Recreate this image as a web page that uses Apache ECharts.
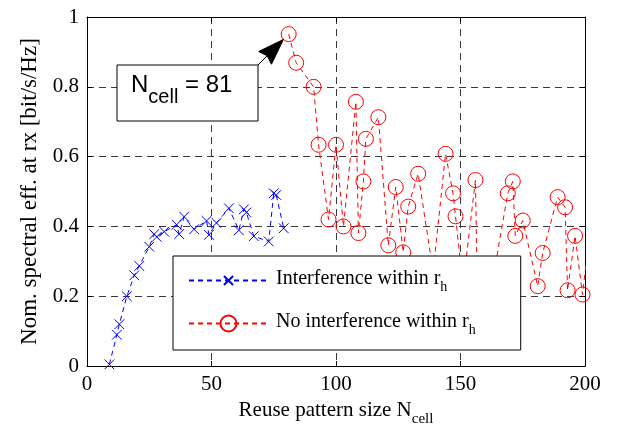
<!DOCTYPE html>
<html><head><meta charset="utf-8">
<script src="https://cdn.jsdelivr.net/npm/echarts@6/dist/echarts.min.js"></script>
<style>html,body{margin:0;padding:0;background:#fff}#c{width:618px;height:432px}</style>
</head><body><div id="c"></div>
<script>
// ---- data ----
const xTicks = [0, 50, 100, 150, 200];
const yTicks = [0, 0.2, 0.4, 0.6, 0.8, 1];
const seriesNames = ['Interference within r', 'No interference within r'];
const blueN = [9,12,13,16,19,21,25,27,28,31,36,37,39,43,48,49,52,57,61,63,64,67,73,75,76,79];
const blueV = [0.005,0.09,0.12,0.2,0.26,0.287,0.342,0.378,0.37,0.385,0.405,0.378,0.428,0.392,0.416,0.376,0.41,0.452,0.389,0.449,0.44,0.372,0.357,0.495,0.49,0.395];
const redN = [81,84,91,93,97,100,103,108,109,111,112,117,121,124,127,129,133,139,144,147,148,151,156,157,163,169,171,172,175,181,183,189,192,193,196,199,201];
const redV = [0.951,0.869,0.8,0.634,0.42,0.634,0.4,0.757,0.381,0.529,0.651,0.713,0.346,0.513,0.326,0.457,0.551,0.27,0.608,0.495,0.429,0.23,0.533,0.1,0.25,0.495,0.529,0.373,0.417,0.229,0.324,0.484,0.455,0.217,0.373,0.205,0.33];
const annotN = 81;
const annotV = 0.951;

const SERIF = "'Liberation Serif','Times New Roman',serif";
const SANS = "'Liberation Sans',Arial,sans-serif";
const CROSS = 'path://M0,0M3,3L11,11M11,3L3,11M14,14';

const chart = echarts.init(document.getElementById('c'), null, {renderer: 'canvas'});
const xMin = xTicks[0], xMax = xTicks[xTicks.length - 1], xInt = xTicks[1] - xTicks[0];
const yMin = yTicks[0], yMax = yTicks[yTicks.length - 1], yInt = yTicks[1] - yTicks[0];

const gridDash = {color: '#3a3a3a', width: 1, type: [7, 5]};
const tick = {inside: true, length: 5, lineStyle: {color: '#000', width: 1}};
const axLine = {show: true, onZero: false, lineStyle: {color: '#000', width: 1}};
const nameRich = {
  a: {fontFamily: SERIF, fontSize: 21, color: '#000', lineHeight: 24, verticalAlign: 'top'},
  s: {fontFamily: SERIF, fontSize: 15, color: '#000', lineHeight: 17, verticalAlign: 'top', padding: [12, 0, 0, 0]}
};
const legRich = {
  a: {fontFamily: SERIF, fontSize: 20, color: '#000', lineHeight: 23, verticalAlign: 'top'},
  s: {fontFamily: SERIF, fontSize: 14, color: '#000', lineHeight: 16, verticalAlign: 'top', padding: [11, 0, 0, 0]}
};

chart.setOption({
  animation: false,
  backgroundColor: '#fff',
  grid: {left: 87, right: 33, top: 17, bottom: 65, containLabel: false},
  xAxis: [{
    type: 'value', min: xMin, max: xMax, interval: xInt, position: 'bottom',
    axisLine: axLine, axisTick: tick,
    axisLabel: {margin: 8, fontFamily: SERIF, fontSize: 21, color: '#000'},
    splitLine: {show: true, lineStyle: gridDash},
    name: '{a|Reuse pattern size N}{s|cell}', nameLocation: 'middle', nameGap: 28,
    nameTextStyle: {rich: nameRich}
  }, {
    type: 'value', min: xMin, max: xMax, interval: xInt, position: 'top',
    axisLine: axLine, axisTick: tick, axisLabel: {show: false}, splitLine: {show: false}
  }],
  yAxis: [{
    type: 'value', min: yMin, max: yMax, interval: yInt, position: 'left',
    axisLine: axLine, axisTick: tick,
    axisLabel: {margin: 8, fontFamily: SERIF, fontSize: 21, color: '#000'},
    splitLine: {show: true, lineStyle: gridDash},
    name: 'Nom. spectral eff. at rx [bit/s/Hz]', nameLocation: 'middle', nameGap: 46,
    nameTextStyle: {fontFamily: SERIF, fontSize: 23, color: '#000'}
  }, {
    type: 'value', min: yMin, max: yMax, interval: yInt, position: 'right',
    axisLine: axLine, axisTick: tick, axisLabel: {show: false}, splitLine: {show: false}
  }],
  legend: {
    orient: 'vertical', left: 173, top: 256,
    padding: [13, 45, 13, 15],
    itemWidth: 79, itemHeight: 20, itemGap: 18,
    backgroundColor: '#fff', borderColor: '#000', borderWidth: 1,
    data: seriesNames,
    formatter: name => '{a|' + name + '}{s|h}',
    textStyle: {padding: [0, 0, 0, 3], rich: legRich}
  },
  series: [{
    name: seriesNames[0], type: 'line', clip: true,
    data: blueN.map((n, i) => [n, blueV[i]]),
    symbol: CROSS, symbolSize: 17,
    itemStyle: {color: 'transparent', borderColor: '#0000ff', borderWidth: 1},
    lineStyle: {color: '#0000ff', width: 1, type: [5, 4]},
    emphasis: {disabled: true}, z: 3
  }, {
    name: seriesNames[1], type: 'line', clip: true,
    data: redN.map((n, i) => [n, redV[i]]),
    symbol: 'circle', symbolSize: 15,
    itemStyle: {color: 'transparent', borderColor: '#ff0000', borderWidth: 1},
    lineStyle: {color: '#ff0000', width: 1, type: [5, 4]},
    emphasis: {disabled: true}, z: 3
  }]
});

// ---- annotation: text box + arrow pointing at N_cell = 81 ----
const p = chart.convertToPixel({xAxisIndex: 0, yAxisIndex: 0}, [annotN, annotV]);
const box = {x: 117, y: 65, w: 141, h: 56};
const sx = box.x + box.w, sy = box.y;
let dx = p[0] - sx, dy = p[1] - sy;
const L = Math.hypot(dx, dy); dx /= L; dy /= L;
const tip = [p[0] - dx * 7.5, p[1] - dy * 7.5];
const headLen = 26, headW = 9;
const base = [tip[0] - dx * headLen, tip[1] - dy * headLen];
const nx = -dy, ny = dx;
const notch = [base[0] + dx * 3, base[1] + dy * 3];
chart.setOption({
  graphic: [{
    type: 'rect', z: 20, shape: {x: box.x, y: box.y, width: box.w, height: box.h},
    style: {fill: '#fff', stroke: '#000', lineWidth: 1}
  }, {
    type: 'text', z: 21, x: 131, y: 73,
    style: {
      text: '{n|N}{s|cell}{n| = 81}',
      rich: {
        n: {fontFamily: SANS, fontSize: 24, color: '#000', lineHeight: 28, verticalAlign: 'top'},
        s: {fontFamily: SANS, fontSize: 20, color: '#000', lineHeight: 24, verticalAlign: 'top', padding: [14, 0, 0, 0]}
      }
    }
  }, {
    type: 'line', z: 20, shape: {x1: sx, y1: sy, x2: notch[0], y2: notch[1]},
    style: {stroke: '#000', lineWidth: 1}
  }, {
    type: 'polygon', z: 20,
    shape: {points: [tip, [base[0] + nx * headW, base[1] + ny * headW], notch, [base[0] - nx * headW, base[1] - ny * headW]]},
    style: {fill: '#000', stroke: '#000', lineWidth: 1}
  }]
});
</script>
</body></html>
